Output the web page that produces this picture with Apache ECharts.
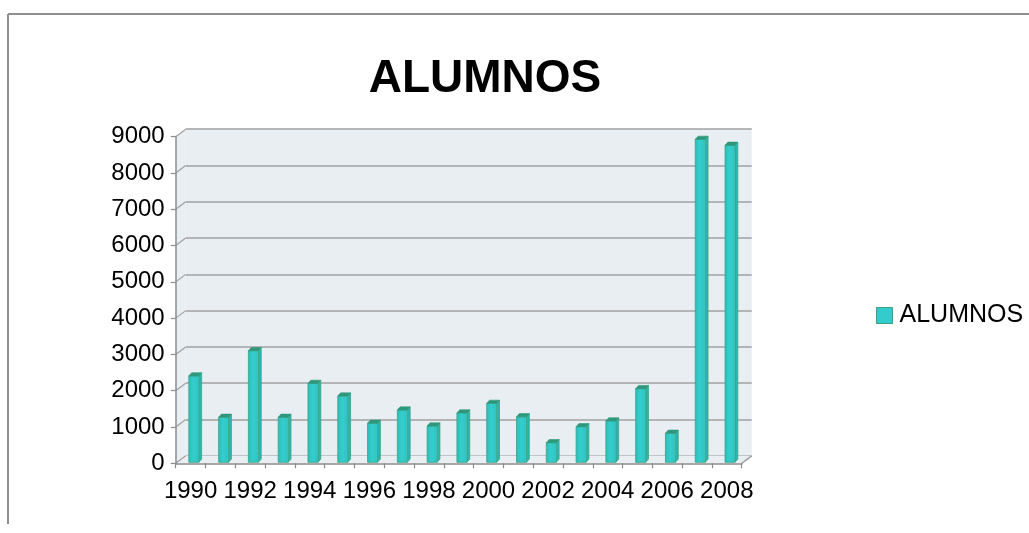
<!DOCTYPE html>
<html>
<head>
<meta charset="utf-8">
<title>ALUMNOS</title>
<script src="https://cdn.jsdelivr.net/npm/echarts@6/dist/echarts.min.js"></script>
<style>
  html, body { margin: 0; padding: 0; background: #ffffff; }
  #chart { width: 1029px; height: 533px; }
</style>
</head>
<body>
<div id="chart"></div>
<script>
// Students per year
const CATEGORIES = ['1990', '1991', '1992', '1993', '1994', '1995', '1996', '1997', '1998', '1999',
                    '2000', '2001', '2002', '2003', '2004', '2005', '2006', '2007', '2008'];
const ALUMNOS = [2380, 1240, 3075, 1240, 2175, 1825, 1075, 1440, 1000, 1360,
                 1625, 1255, 540, 980, 1140, 2030, 800, 8900, 8735];
const Y_TICKS = [0, 1000, 2000, 3000, 4000, 5000, 6000, 7000, 8000, 9000];
const SERIES_NAME = 'ALUMNOS';
const TITLE = 'ALUMNOS';

const FONT = "'Liberation Sans', Arial, sans-serif";
const AXIS_GRAY = '#8c8c8c';
const WALL = '#e8eef2';
// oblique depth of the plot box (back wall offset from the front axes)
const DX = 10, DY = 7.5;

const chart = echarts.init(document.getElementById('chart'), null, { renderer: 'canvas' });

function wallsItem(params) {
  const cs = params.coordSys;
  const bottom = cs.y + cs.height;
  const right = cs.x + cs.width;
  return {
    type: 'group',
    children: [
      { type: 'polygon', shape: { points: [[cs.x, bottom], [cs.x, cs.y], [cs.x + DX, cs.y - DY], [cs.x + DX, bottom - DY]] },
        style: { fill: WALL } },
      { type: 'polygon', shape: { points: [[cs.x, bottom], [right, bottom], [right + DX, bottom - DY], [cs.x + DX, bottom - DY]] },
        style: { fill: WALL } },
      { type: 'line', shape: { x1: right, y1: bottom, x2: right + DX, y2: bottom - DY },
        style: { stroke: '#a0a0a0', lineWidth: 1.5 } }
    ]
  };
}

function depthItem(params, api) {
  const cs = params.coordSys;
  const y = api.coord([0, api.value(0)])[1];
  return {
    type: 'line',
    shape: { x1: cs.x, y1: y, x2: cs.x + DX, y2: y - DY },
    style: { stroke: '#a0a0a0', lineWidth: 1.2 }
  };
}

function barItem(params, api) {
  const idx = api.value(0);
  const base = api.coord([idx, 0]);
  const top = api.coord([idx, api.value(1)]);
  const band = api.size([1, 0])[0];
  const fw = band * 0.335;
  const left = base[0] - band * 0.06;
  const right = left + fw;
  const yb = base[1] - 1;
  const yt = top[1] - 1;
  const sx = band * 0.095, sy = 3.2;
  return {
    type: 'group',
    children: [
      { type: 'polygon',
        shape: { points: [[right, yb], [right, yt], [right + sx, yt - sy], [right + sx, yb - sy]] },
        style: { fill: '#2db5b0', stroke: '#36a385', lineWidth: 0.8 } },
      { type: 'rect',
        shape: { x: left, y: yt, width: fw, height: yb - yt },
        style: {
          fill: new echarts.graphic.LinearGradient(0, 0, 1, 0, [
            { offset: 0, color: '#2cbcb8' },
            { offset: 0.45, color: '#35cdcd' },
            { offset: 0.85, color: '#30c6c6' },
            { offset: 1, color: '#62d8d8' }
          ]),
          stroke: '#3aa585', lineWidth: 0.8
        } },
      { type: 'polygon',
        shape: { points: [[left, yt], [right, yt], [right + sx, yt - sy], [left + sx, yt - sy]] },
        style: { fill: '#2f977a', stroke: '#2f977a', lineWidth: 0.6 } }
    ]
  };
}

const option = {
  backgroundColor: '#ffffff',
  animation: false,
  title: {
    text: TITLE,
    left: 480,
    top: 51,
    textAlign: 'center',
    textStyle: { fontFamily: FONT, fontSize: 46, fontWeight: 'bold', color: '#000000' }
  },
  legend: {
    left: 876,
    top: 303,
    padding: 0,
    orient: 'vertical',
    itemWidth: 16,
    itemHeight: 16,
    itemGap: 7,
    selectedMode: false,
    data: [{ name: SERIES_NAME, icon: 'rect',
             itemStyle: { color: '#33cccc', borderColor: '#3c9e80', borderWidth: 1 } }],
    textStyle: { fontFamily: FONT, fontSize: 25, color: '#000000', padding: [0, 0, 0, 2] }
  },
  grid: [
    { left: 175.7, top: 136.7, width: 566, height: 326.6, containLabel: false },
    { left: 175.7 + DX, top: 136.7 - DY, width: 566, height: 326.6, show: true,
      backgroundColor: WALL, borderWidth: 0, z: 0 }
  ],
  xAxis: [
    { gridIndex: 0, type: 'category', data: CATEGORIES, z: 2,
      axisLine: { show: true, lineStyle: { color: AXIS_GRAY, width: 1.5 } },
      axisTick: { show: true, interval: 0, length: 5, lineStyle: { color: AXIS_GRAY, width: 1.2 } },
      axisLabel: { interval: 1, margin: 16, fontFamily: FONT, fontSize: 24, color: '#000000' },
      splitLine: { show: false } },
    { gridIndex: 1, type: 'category', data: CATEGORIES, show: false }
  ],
  yAxis: [
    { gridIndex: 0, type: 'value', min: 0, max: 9000, interval: 1000, z: 2,
      axisLine: { show: true, lineStyle: { color: AXIS_GRAY, width: 1.5 } },
      axisTick: { show: true, length: 5, lineStyle: { color: AXIS_GRAY, width: 1.2 } },
      axisLabel: { margin: 11, fontFamily: FONT, fontSize: 24, color: '#000000',
                   formatter: v => String(v) },
      splitLine: { show: false } },
    { gridIndex: 1, type: 'value', min: 0, max: 9000, interval: 1000, z: 0,
      axisLine: { show: false }, axisTick: { show: false }, axisLabel: { show: false },
      splitLine: { show: true, lineStyle: { color: '#a0a0a0', width: 1.5 } } }
  ],
  series: [
    { type: 'custom', name: 'walls', xAxisIndex: 0, yAxisIndex: 0, z: 1, silent: true,
      data: [0], renderItem: wallsItem },
    { type: 'custom', name: 'depth', xAxisIndex: 0, yAxisIndex: 0, z: 2, silent: true,
      data: Y_TICKS.map(v => [v]), encode: { y: 0 }, renderItem: depthItem },
    { type: 'custom', name: SERIES_NAME, xAxisIndex: 0, yAxisIndex: 0, z: 3,
      itemStyle: { color: '#33cccc' },
      data: ALUMNOS.map((v, i) => [i, v]), encode: { x: 0, y: 1 },
      renderItem: barItem }
  ],
  graphic: [
    { type: 'line', shape: { x1: 8, y1: 14, x2: 1029, y2: 14 },
      style: { stroke: '#8f8f8f', lineWidth: 2 }, silent: true },
    { type: 'line', shape: { x1: 8, y1: 14, x2: 8, y2: 524 },
      style: { stroke: '#8f8f8f', lineWidth: 2 }, silent: true }
  ]
};

chart.setOption(option);
</script>
</body>
</html>
